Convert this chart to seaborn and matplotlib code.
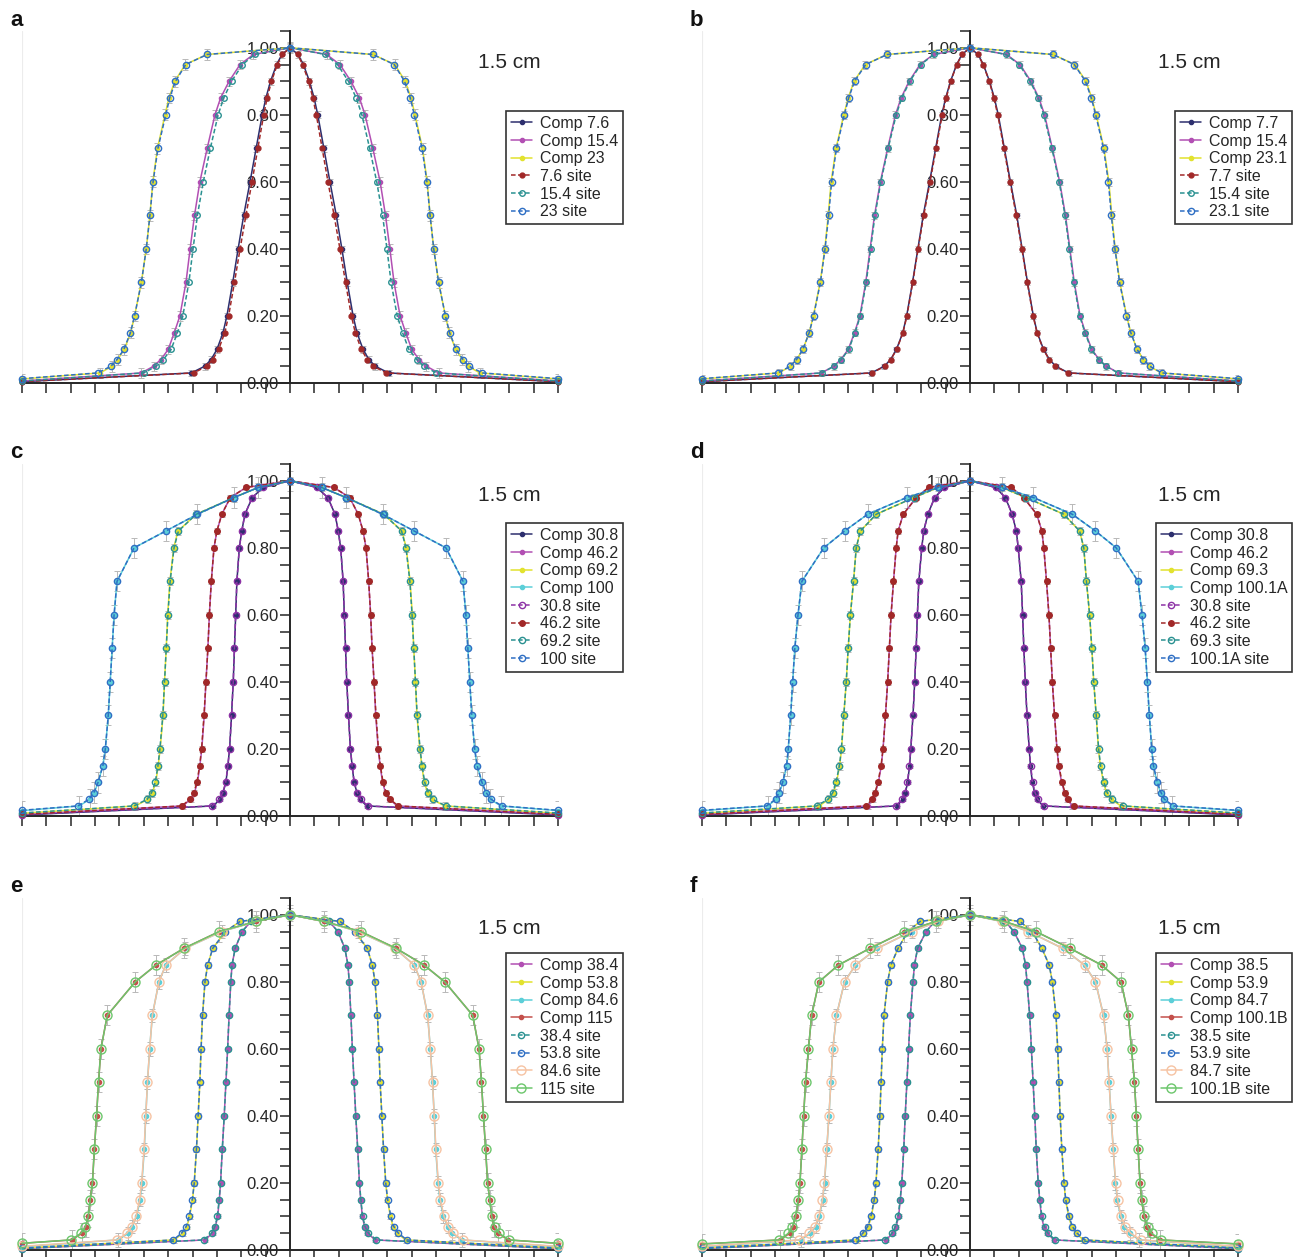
import numpy as np
import pandas as pd
import matplotlib
matplotlib.use("Agg")
import matplotlib.pyplot as plt
from matplotlib.ticker import MultipleLocator, FormatStrFormatter
import seaborn as sns

# ---------------- data ----------------
# dose levels at which the right half of every profile was read (relative dose)
LEVELS = [1.00, 0.98, 0.95, 0.90, 0.85, 0.80, 0.70, 0.60, 0.50, 0.40,
          0.30, 0.20, 0.15, 0.10, 0.07, 0.05, 0.03]
X_EDGE = 11  # half-range of the profile axis

# panel a : off-axis position (axis units) where each curve reaches LEVELS
a_labels = ["Comp 7.6", "Comp 15.4", "Comp 23", "7.6 site", "15.4 site", "23 site"]
a_comp76 = [0, 0.33, 0.55, 0.80, 0.99, 1.14, 1.39, 1.64, 1.90, 2.13, 2.35, 2.59, 2.75, 3.00, 3.24, 3.50, 4.05]
a_comp154 = [0, 1.50, 2.05, 2.50, 2.85, 3.08, 3.40, 3.70, 3.92, 4.10, 4.27, 4.52, 4.75, 5.00, 5.30, 5.60, 6.10]
a_comp23 = [0, 3.40, 4.30, 4.73, 4.97, 5.13, 5.44, 5.63, 5.75, 5.90, 6.10, 6.38, 6.54, 6.80, 7.08, 7.30, 7.80]
a_site76 = [0, 0.31, 0.52, 0.76, 0.94, 1.08, 1.32, 1.56, 1.81, 2.05, 2.28, 2.52, 2.68, 2.93, 3.17, 3.42, 3.95]
a_site154 = [0, 1.45, 1.95, 2.40, 2.72, 2.95, 3.27, 3.56, 3.80, 3.98, 4.15, 4.40, 4.62, 4.88, 5.20, 5.50, 6.00]
a_site23 = [0, 3.40, 4.28, 4.70, 4.94, 5.10, 5.42, 5.62, 5.75, 5.90, 6.10, 6.38, 6.55, 6.82, 7.10, 7.35, 7.90]
a_tail = [0.004, 0.006, 0.012, 0.004, 0.006, 0.013]
a_err = [0.010, 0.014, 0.016]

# panel b
b_labels = ["Comp 7.7", "Comp 15.4", "Comp 23.1", "7.7 site", "15.4 site", "23.1 site"]
b_comp77 = [0, 0.33, 0.55, 0.80, 1.00, 1.16, 1.41, 1.66, 1.92, 2.14, 2.36, 2.60, 2.76, 3.02, 3.26, 3.52, 4.05]
b_comp154 = [0, 1.50, 2.05, 2.50, 2.83, 3.06, 3.38, 3.68, 3.92, 4.10, 4.28, 4.52, 4.74, 5.00, 5.30, 5.60, 6.10]
b_comp231 = [0, 3.40, 4.30, 4.76, 5.00, 5.18, 5.50, 5.70, 5.82, 5.96, 6.15, 6.43, 6.60, 6.86, 7.12, 7.36, 7.85]
b_site77 = [0, 0.32, 0.54, 0.79, 0.98, 1.14, 1.39, 1.64, 1.90, 2.13, 2.35, 2.59, 2.75, 3.01, 3.25, 3.50, 4.02]
b_site154 = [0, 1.48, 2.02, 2.47, 2.80, 3.03, 3.36, 3.66, 3.90, 4.08, 4.26, 4.50, 4.72, 4.98, 5.28, 5.58, 6.08]
b_site231 = [0, 3.40, 4.28, 4.74, 4.98, 5.16, 5.48, 5.68, 5.80, 5.95, 6.14, 6.42, 6.60, 6.86, 7.12, 7.38, 7.88]
b_tail = [0.004, 0.006, 0.012, 0.004, 0.006, 0.013]
b_err = [0.008, 0.010, 0.012]

# panel c
c_labels = ["Comp 30.8", "Comp 46.2", "Comp 69.2", "Comp 100",
            "30.8 site", "46.2 site", "69.2 site", "100 site"]
c_comp308 = [0, 1.10, 1.55, 1.85, 1.98, 2.08, 2.18, 2.23, 2.28, 2.33, 2.40, 2.48, 2.55, 2.63, 2.75, 2.87, 3.15]
c_comp462 = [0, 1.80, 2.45, 2.80, 3.00, 3.12, 3.23, 3.31, 3.37, 3.45, 3.52, 3.62, 3.70, 3.80, 3.92, 4.08, 4.40]
c_comp692 = [0, 1.30, 2.30, 3.85, 4.60, 4.77, 4.93, 5.02, 5.08, 5.15, 5.21, 5.33, 5.41, 5.51, 5.65, 5.82, 6.35]
c_comp100 = [0, 1.30, 2.30, 3.80, 5.10, 6.40, 7.10, 7.22, 7.30, 7.38, 7.46, 7.58, 7.68, 7.88, 8.03, 8.22, 8.65]
c_site308 = [0, 1.10, 1.55, 1.85, 1.98, 2.08, 2.18, 2.23, 2.28, 2.33, 2.40, 2.48, 2.55, 2.64, 2.76, 2.90, 3.20]
c_site462 = [0, 1.80, 2.45, 2.80, 3.00, 3.12, 3.23, 3.31, 3.37, 3.45, 3.53, 3.63, 3.71, 3.82, 3.95, 4.10, 4.45]
c_site692 = [0, 1.30, 2.30, 3.85, 4.58, 4.76, 4.92, 5.01, 5.08, 5.15, 5.22, 5.34, 5.42, 5.53, 5.68, 5.86, 6.40]
c_site100 = [0, 1.30, 2.30, 3.80, 5.10, 6.40, 7.10, 7.22, 7.30, 7.38, 7.46, 7.58, 7.68, 7.88, 8.05, 8.25, 8.70]
c_tail = [0.003, 0.005, 0.008, 0.016, 0.004, 0.005, 0.009, 0.017]
c_err = [0.006, 0.008, 0.012, 0.030]

# panel d
d_labels = ["Comp 30.8", "Comp 46.2", "Comp 69.3", "Comp 100.1A",
            "30.8 site", "46.2 site", "69.3 site", "100.1A site"]
d_comp308 = [0, 1.05, 1.45, 1.73, 1.90, 1.98, 2.10, 2.16, 2.21, 2.27, 2.34, 2.43, 2.48, 2.56, 2.65, 2.75, 3.00]
d_comp462 = [0, 1.70, 2.20, 2.74, 2.95, 3.03, 3.14, 3.24, 3.31, 3.38, 3.47, 3.57, 3.64, 3.76, 3.88, 4.00, 4.20]
d_comp693 = [0, 1.30, 2.30, 3.85, 4.50, 4.67, 4.78, 4.91, 5.00, 5.08, 5.18, 5.27, 5.35, 5.48, 5.60, 5.78, 6.20]
d_comp1001 = [0, 1.30, 2.60, 4.20, 5.15, 6.00, 6.90, 7.06, 7.19, 7.28, 7.36, 7.46, 7.52, 7.68, 7.82, 7.95, 8.30]
d_site308 = [0, 1.05, 1.45, 1.73, 1.90, 1.98, 2.10, 2.16, 2.21, 2.27, 2.34, 2.43, 2.49, 2.57, 2.67, 2.78, 3.05]
d_site462 = [0, 1.70, 2.20, 2.74, 2.95, 3.03, 3.14, 3.24, 3.31, 3.38, 3.47, 3.57, 3.65, 3.78, 3.90, 4.03, 4.25]
d_site693 = [0, 1.30, 2.30, 3.85, 4.50, 4.67, 4.78, 4.91, 5.00, 5.08, 5.18, 5.28, 5.36, 5.50, 5.63, 5.82, 6.30]
d_site1001 = [0, 1.30, 2.60, 4.20, 5.15, 6.00, 6.90, 7.06, 7.19, 7.28, 7.36, 7.46, 7.53, 7.69, 7.84, 7.98, 8.35]
d_tail = [0.003, 0.005, 0.008, 0.016, 0.004, 0.005, 0.009, 0.017]
d_err = [0.006, 0.008, 0.012, 0.030]

# panel e
e_labels = ["Comp 38.4", "Comp 53.8", "Comp 84.6", "Comp 115",
            "38.4 site", "53.8 site", "84.6 site", "115 site"]
e_comp384 = [0, 1.60, 1.97, 2.25, 2.38, 2.43, 2.50, 2.56, 2.63, 2.70, 2.78, 2.85, 2.90, 2.97, 3.06, 3.18, 3.50]
e_comp538 = [0, 2.05, 2.65, 3.17, 3.38, 3.49, 3.59, 3.65, 3.70, 3.77, 3.84, 3.93, 4.00, 4.12, 4.23, 4.40, 4.75]
e_comp846 = [0, 1.40, 2.80, 4.30, 5.10, 5.38, 5.65, 5.76, 5.85, 5.92, 5.98, 6.08, 6.15, 6.30, 6.48, 6.65, 7.05]
e_comp115 = [0, 1.40, 2.90, 4.35, 5.50, 6.35, 7.50, 7.76, 7.86, 7.94, 8.03, 8.11, 8.20, 8.28, 8.38, 8.55, 8.95]
e_site384 = [0, 1.60, 1.97, 2.25, 2.38, 2.43, 2.50, 2.56, 2.63, 2.70, 2.78, 2.85, 2.91, 2.98, 3.08, 3.22, 3.55]
e_site538 = [0, 2.05, 2.65, 3.17, 3.38, 3.49, 3.59, 3.65, 3.70, 3.77, 3.84, 3.93, 4.01, 4.14, 4.26, 4.45, 4.80]
e_site846 = [0, 1.40, 2.80, 4.30, 5.10, 5.38, 5.65, 5.76, 5.85, 5.92, 5.99, 6.09, 6.17, 6.32, 6.50, 6.70, 7.10]
e_site115 = [0, 1.40, 2.90, 4.35, 5.50, 6.35, 7.50, 7.76, 7.86, 7.94, 8.03, 8.11, 8.20, 8.28, 8.40, 8.58, 9.00]
e_tail = [0.004, 0.006, 0.010, 0.020, 0.004, 0.006, 0.011, 0.020]
e_err = [0.006, 0.008, 0.020, 0.030]

# panel f
f_labels = ["Comp 38.5", "Comp 53.9", "Comp 84.7", "Comp 100.1B",
            "38.5 site", "53.9 site", "84.7 site", "100.1B site"]
f_comp385 = [0, 1.45, 1.80, 2.15, 2.28, 2.34, 2.45, 2.52, 2.59, 2.66, 2.72, 2.80, 2.86, 2.93, 3.03, 3.17, 3.45]
f_comp539 = [0, 2.05, 2.55, 2.95, 3.25, 3.38, 3.53, 3.60, 3.65, 3.70, 3.77, 3.86, 3.92, 4.05, 4.17, 4.35, 4.65]
f_comp847 = [0, 1.30, 2.40, 3.80, 4.70, 5.15, 5.48, 5.63, 5.71, 5.79, 5.88, 5.97, 6.05, 6.18, 6.33, 6.55, 6.95]
f_comp1001 = [0, 1.40, 2.70, 4.10, 5.40, 6.20, 6.50, 6.63, 6.75, 6.83, 6.90, 6.98, 7.04, 7.15, 7.27, 7.40, 7.80]
f_site385 = [0, 1.45, 1.80, 2.15, 2.28, 2.34, 2.45, 2.52, 2.59, 2.66, 2.72, 2.80, 2.87, 2.95, 3.06, 3.20, 3.50]
f_site539 = [0, 2.05, 2.55, 2.95, 3.25, 3.38, 3.53, 3.60, 3.65, 3.70, 3.77, 3.86, 3.93, 4.07, 4.20, 4.40, 4.70]
f_site847 = [0, 1.30, 2.40, 3.80, 4.70, 5.15, 5.48, 5.63, 5.71, 5.79, 5.88, 5.98, 6.06, 6.20, 6.36, 6.60, 7.00]
f_site1001 = [0, 1.40, 2.70, 4.10, 5.40, 6.20, 6.50, 6.63, 6.75, 6.83, 6.90, 6.98, 7.05, 7.16, 7.29, 7.45, 7.85]
f_tail = [0.004, 0.006, 0.010, 0.018, 0.004, 0.006, 0.011, 0.018]
f_err = [0.006, 0.008, 0.020, 0.030]

# ---------------- styles ----------------
NAVY, MAG, YEL, CYAN = "#2d2f6e", "#b24fb3", "#e2e22e", "#5ccfd8"
DRED, TEAL, BLUE, PURP = "#a12828", "#2a9191", "#2f6fc4", "#8d32a6"
PEACH, GREEN, RED = "#f6c3a3", "#6cc66c", "#c4504b"

# (color, linestyle, marker size, hollow)
STY_A = [(NAVY, "-", 3, False), (MAG, "-", 3, False), (YEL, "-", 3, False),
         (DRED, "--", 3.5, False), (TEAL, "--", 4, True), (BLUE, "--", 4.5, True)]
STY_C = [(NAVY, "-", 3, False), (MAG, "-", 3, False), (YEL, "-", 3, False), (CYAN, "-", 3, False),
         (PURP, "--", 4.5, True), (DRED, "--", 4, False), (TEAL, "--", 4.5, True), (BLUE, "--", 4.5, True)]
STY_E = [(MAG, "-", 3, False), (YEL, "-", 3, False), (CYAN, "-", 3, False), (RED, "-", 3, False),
         (TEAL, "--", 4.5, True), (BLUE, "--", 4.5, True), (PEACH, "-", 6.5, True), (GREEN, "-", 6.5, True)]

PANELS = [
    ("a", a_labels, [a_comp76, a_comp154, a_comp23, a_site76, a_site154, a_site23], a_tail, a_err, STY_A),
    ("b", b_labels, [b_comp77, b_comp154, b_comp231, b_site77, b_site154, b_site231], b_tail, b_err, STY_A),
    ("c", c_labels, [c_comp308, c_comp462, c_comp692, c_comp100, c_site308, c_site462, c_site692, c_site100], c_tail, c_err, STY_C),
    ("d", d_labels, [d_comp308, d_comp462, d_comp693, d_comp1001, d_site308, d_site462, d_site693, d_site1001], d_tail, d_err, STY_C),
    ("e", e_labels, [e_comp384, e_comp538, e_comp846, e_comp115, e_site384, e_site538, e_site846, e_site115], e_tail, e_err, STY_E),
    ("f", f_labels, [f_comp385, f_comp539, f_comp847, f_comp1001, f_site385, f_site539, f_site847, f_site1001], f_tail, f_err, STY_E),
]


def profile(xs, tail):
    rx = np.append(np.asarray(xs, float), X_EDGE)
    ry = np.append(np.asarray(LEVELS, float), tail)
    x = np.concatenate([-rx[::-1], rx[1:]])
    y = np.concatenate([ry[::-1], ry[1:]])
    return x, y


sns.set_style("ticks")
plt.rcParams["font.family"] = ["Liberation Sans", "DejaVu Sans"]

W, H = 1293, 1257
fig = plt.figure(figsize=(W / 100, H / 100), dpi=100)
COL_L = [22, 702]
AX_W = 536
ROW_B = [383, 816, 1250]
AX_H = 352
LEG_TOP = [111, 523, 953]
LEG_RIGHT = [623, 1292]
INK = "#262626"

for i, (letter, labels, curves, tails, errs, styles) in enumerate(PANELS):
    r, c = divmod(i, 2)
    l, b = COL_L[c], ROW_B[r]
    ax = fig.add_axes([l / W, 1 - b / H, AX_W / W, AX_H / H])

    frames = []
    for lab, xs, t in zip(labels, curves, tails):
        x, y = profile(xs, t)
        frames.append(pd.DataFrame({"pos": x, "dose": y, "curve": lab}))
    df = pd.concat(frames, ignore_index=True)

    n_comp = len(errs)
    # error bars on the computed profiles
    for k in range(n_comp):
        sub = df[df["curve"] == labels[k]]
        ax.errorbar(sub["pos"], sub["dose"], yerr=errs[k], fmt="none",
                    ecolor="#b8b8b8", elinewidth=0.7, capsize=2.2, capthick=0.7,
                    zorder=1)

    for k, lab in enumerate(labels):
        col, ls, ms, hollow = styles[k]
        sub = df[df["curve"] == lab]
        kw = dict(color=col, lw=1.1, marker="o", markersize=ms,
                  markeredgecolor=col, markeredgewidth=1.0,
                  markerfacecolor=("none" if hollow else col),
                  zorder=3 + k * 0.1, clip_on=False)
        if ls == "--":
            kw["dashes"] = (3, 1.6)
        sns.lineplot(data=sub, x="pos", y="dose", ax=ax, label=lab,
                     estimator=None, sort=False, legend=False, **kw)

    ax.set_xlim(-X_EDGE, X_EDGE)
    ax.set_ylim(0, 1.05)
    ax.set_xlabel("")
    ax.set_ylabel("")
    ax.set_axisbelow(True)
    ax.spines["left"].set_position(("data", 0))
    ax.spines["top"].set_visible(False)
    ax.spines["right"].set_visible(False)
    for s in ("left", "bottom"):
        ax.spines[s].set_color(INK)
        ax.spines[s].set_linewidth(1.4)
        ax.spines[s].set_zorder(2.6)
    ax.axvline(ax.get_xlim()[0], color="#ececec", lw=0.8, zorder=0)

    ax.xaxis.set_major_locator(MultipleLocator(1))
    ax.xaxis.set_major_formatter(plt.NullFormatter())
    ax.yaxis.set_major_locator(MultipleLocator(0.2))
    ax.yaxis.set_minor_locator(MultipleLocator(0.05))
    ax.yaxis.set_major_formatter(FormatStrFormatter("%.2f"))
    ax.tick_params(axis="both", which="both", direction="out", length=7,
                   width=1.1, color=INK, labelcolor=INK, labelsize=12, pad=1)
    ax.patch.set_alpha(0)

    ax.text(456 / AX_W, 1 - 31 / AX_H, "1.5 cm", transform=ax.transAxes,
            fontsize=15, color=INK, ha="left", va="center")

    fig.text((l - 12) / W, 1 - (b - 363) / H, letter, fontsize=16,
             fontweight="bold", color="#111111", ha="left", va="center")

    handles, labs = ax.get_legend_handles_labels()
    ax.legend(handles, labs, loc="upper right",
              bbox_to_anchor=(LEG_RIGHT[c] / W, 1 - LEG_TOP[r] / H),
              bbox_transform=fig.transFigure, fontsize=11.5, frameon=True,
              fancybox=False, framealpha=1, edgecolor="#333333",
              borderpad=0.3, labelspacing=0.17, handlelength=1.3,
              handletextpad=0.5, borderaxespad=0)
    ax.get_legend().get_frame().set_linewidth(1.2)

fig.savefig("out.png", dpi=100)
